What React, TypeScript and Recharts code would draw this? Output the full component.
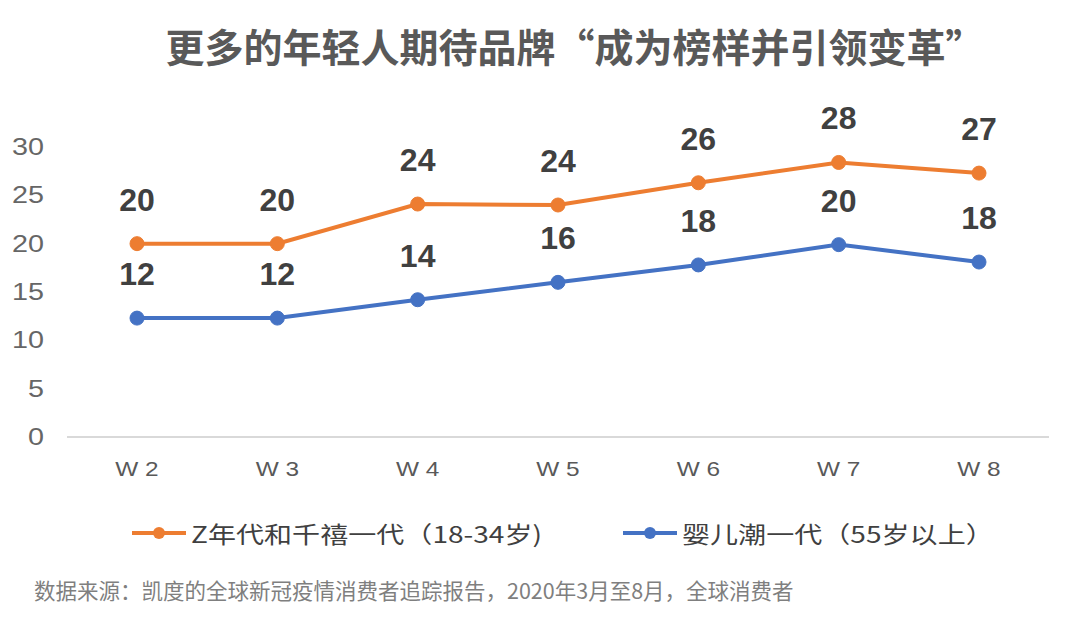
import React from 'react';
import { LineChart, Line, XAxis, YAxis, LabelList } from 'recharts';

const weeks = ['W 2', 'W 3', 'W 4', 'W 5', 'W 6', 'W 7', 'W 8'];
const genZ = [20, 20, 24.1, 24, 26.3, 28.4, 27.3];
const boomers = [12.3, 12.3, 14.2, 16, 17.8, 19.9, 18.1];
const yTicks = [0, 5, 10, 15, 20, 25, 30];

const title = '更多的年轻人期待品牌“成为榜样并引领变革”';
const source = '数据来源：凯度的全球新冠疫情消费者追踪报告，2020年3月至8月，全球消费者';
const genZName = 'Z年代和千禧一代（18-34岁)';
const boomerName = '婴儿潮一代（55岁以上）';

const ORANGE = '#ED7D31';
const BLUE = '#4472C4';
const CJK = '"Noto Sans CJK SC", "Noto Sans", sans-serif';
const LATIN = '"Liberation Sans", Arial, sans-serif';

const data = weeks.map((w, i) => ({ week: w, genZ: genZ[i], boomers: boomers[i] }));

// the source picture is a bit stretched sideways, so ticks get a horizontal scale
const YTick = ({ x, y, payload }: any) => (
  <text
    transform={`translate(${x + 2},${y}) scale(1.25,1)`}
    textAnchor="end"
    dominantBaseline="central"
    fontFamily={LATIN}
    fontSize={23}
    fill="#666666"
  >
    {payload.value}
  </text>
);

const XTick = ({ x, y, payload }: any) => (
  <text
    transform={`translate(${x},${y + 30}) scale(1.22,1)`}
    textAnchor="middle"
    dominantBaseline="central"
    fontFamily={LATIN}
    fontSize={20}
    fill="#595959"
  >
    {payload.value}
  </text>
);

const LegendItem = ({ color, name, left }: { color: string; name: string; left: number }) => (
  <div style={{ position: 'absolute', left, top: 518, height: 30, display: 'flex', alignItems: 'center' }}>
    <svg width={54} height={16} style={{ marginRight: 5 }}>
      <line x1={0} y1={8} x2={54} y2={8} stroke={color} strokeWidth={4} />
      <circle cx={27} cy={8} r={6} fill={color} />
    </svg>
    <span
      style={{
        fontFamily: CJK, fontSize: 23, color: '#404040', whiteSpace: 'nowrap',
        display: 'inline-block', transform: 'scaleX(1.22)', transformOrigin: 'left center',
      }}
    >
      {name}
    </span>
  </div>
);

const App = () => {
  const labelFmt = (v: any) => Math.round(Number(v));
  return (
    <div style={{ position: 'absolute', left: 0, top: 0, width: 1080, height: 635, background: '#fff', overflow: 'hidden' }}>
      <div
        style={{
          position: 'absolute', left: 0, top: 20, width: 1150, textAlign: 'center',
          fontFamily: CJK, fontWeight: 'bold', fontSize: 39, color: '#595959', lineHeight: '50px', whiteSpace: 'nowrap',
        }}
      >
        {title}
      </div>
      <LineChart width={1080} height={635} data={data} margin={{ top: 147, right: 31, bottom: 168, left: 0 }}>
        <XAxis
          dataKey="week"
          padding={{ left: 70, right: 70 }}
          axisLine={{ stroke: '#d9d9d9', strokeWidth: 2 }}
          tickLine={false}
          tickSize={0}
          tick={<XTick />}
        />
        <YAxis
          width={67}
          domain={[0, 30]}
          ticks={yTicks}
          axisLine={false}
          tickLine={false}
          tickSize={0}
          tickMargin={25}
          tick={<YTick />}
        />
        <Line
          dataKey="genZ"
          stroke={ORANGE}
          strokeWidth={4}
          dot={{ r: 7, fill: ORANGE, stroke: ORANGE, strokeWidth: 1 }}
          isAnimationActive={false}
        >
          <LabelList dataKey="genZ" position="top" offset={33} formatter={labelFmt}
            style={{ fontFamily: LATIN, fontSize: 32, fontWeight: 'bold', fill: '#404040' }} />
        </Line>
        <Line
          dataKey="boomers"
          stroke={BLUE}
          strokeWidth={4}
          dot={{ r: 7, fill: BLUE, stroke: BLUE, strokeWidth: 1 }}
          isAnimationActive={false}
        >
          <LabelList dataKey="boomers" position="top" offset={33} formatter={labelFmt}
            style={{ fontFamily: LATIN, fontSize: 32, fontWeight: 'bold', fill: '#404040' }} />
        </Line>
      </LineChart>
      <LegendItem color={ORANGE} name={genZName} left={132} />
      <LegendItem color={BLUE} name={boomerName} left={623} />
      <div
        style={{
          position: 'absolute', left: 34, top: 576, fontFamily: CJK, fontSize: 21.5, color: '#7f7f7f', whiteSpace: 'nowrap', lineHeight: '28px',
        }}
      >
        {source}
      </div>
    </div>
  );
};

export default App;
